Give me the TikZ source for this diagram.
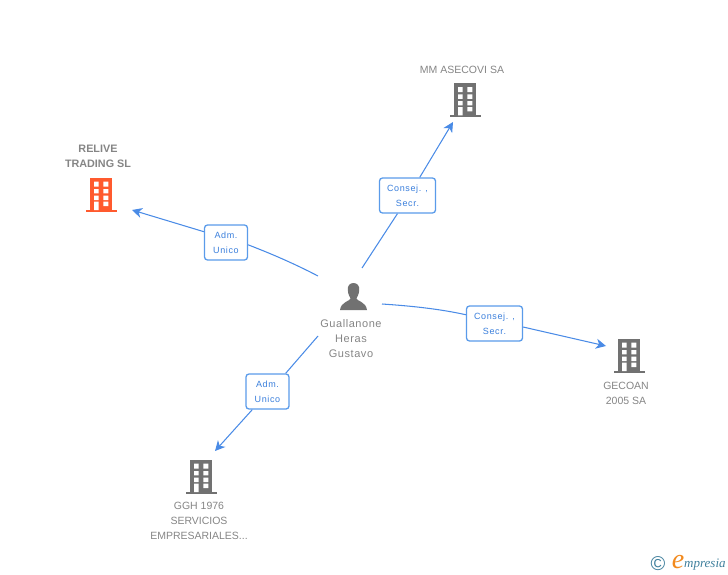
\documentclass[tikz,border=0pt]{standalone}
\usepackage{fontspec}
\usetikzlibrary{arrows.meta}
\setmainfont{Liberation Sans}
\newfontfamily\logofont{Liberation Serif}
\definecolor{linkblue}{HTML}{4A8BE6}
\definecolor{boxblue}{HTML}{5A9BEA}
\definecolor{tagblue}{HTML}{3A7FDC}
\definecolor{icongray}{HTML}{717171}
\definecolor{textgray}{HTML}{858585}
\definecolor{iconred}{HTML}{FF5A2E}
\definecolor{logoteal}{HTML}{3F7F9C}
\definecolor{logoorange}{HTML}{F28A1E}
\tikzset{
  linkline/.style={draw=linkblue,line width=1.05pt},
  link/.style={linkline,-{Stealth[length=10pt,width=10pt,inset=3pt]}},
  tagbox/.style={draw=boxblue,line width=1.3pt,fill=white,rounded corners=3pt,
    minimum width=43pt,minimum height=35pt,inner sep=0pt,align=center,text=tagblue,
    font=\addfontfeature{LetterSpace=7}\fontsize{9}{15}\selectfont},
  widebox/.style={tagbox,minimum width=56pt},
  emp/.style={align=center,text=textgray,inner sep=0pt,
    font=\fontsize{10.5}{15}\selectfont},
  bld/.pic={
    \fill [pic actions] (-11,-17) rectangle (11,15);
    \fill [pic actions] (-15.5,15) rectangle (15.5,17);
    \fill [white] (-7,-13.3) rectangle (-2.3,-8.3) (2.3,-13.3) rectangle (7.3,-8.3)
                  (-7,-6) rectangle (-2.3,-1.7) (2.3,-6) rectangle (7.3,-1.7)
                  (-7,0.7) rectangle (-2.3,5) (2.3,0.7) rectangle (7.3,5)
                  (-7,6.7) rectangle (-2.3,15) (2.3,6.7) rectangle (7.3,11);
  },
}
\begin{document}
\begin{tikzpicture}[x=1pt,y=-1pt]
\useasboundingbox (0,0) rectangle (728,575);

\coordinate (gu-relive) at (318,276);
\coordinate (gu-mm) at (362,268);
\coordinate (gu-gecoan) at (382,304);
\coordinate (gu-ggh) at (318,336);
\coordinate (end-relive) at (132,210);
\coordinate (end-mm) at (453,122);
\coordinate (end-gecoan) at (606,346);
\coordinate (end-ggh) at (215,451);

\node [tagbox] (tag-relive) at (226,242.5){Adm.\\Unico};
\draw [linkline] (gu-relive) .. controls (295,264) and (272,254) .. (tag-relive.-6.5);
\draw [link] (tag-relive.154.5) -- (end-relive);

\node [widebox] (tag-mm) at (407.5,195.5){Consej. ,\\Secr.};
\draw [linkline] (gu-mm) -- (tag-mm.241.5);
\draw [link] (tag-mm.56.7) -- (end-mm);

\node [widebox] (tag-gecoan) at (494.5,323.5){Consej. ,\\Secr.};
\draw [linkline] (gu-gecoan) .. controls (412,306) and (440,309) .. (tag-gecoan.163.4);
\draw [link] (tag-gecoan.-7) -- (end-gecoan);

\node [tagbox] (tag-ggh) at (267.5,391.5){Adm.\\Unico};
\draw [linkline] (gu-ggh) -- (tag-ggh.45);
\draw [link] (tag-ggh.230.4) -- (end-ggh);

%%%%%%%%%%%%%%%%%%%%%%%%%%%%%%%%%%%%%%%%%%%%%%%%%%%%%%%%%%%%%%%%%

\pic [fill=iconred] (bld-relive) at (101,195) {bld};
\pic [fill=icongray] (bld-mm) at (465,100.5) {bld};
\pic [fill=icongray] (bld-gecoan) at (629,356) {bld};
\pic [fill=icongray] (bld-ggh) at (201,477) {bld};

\node [emp,font=\bfseries\fontsize{10.8}{15}\selectfont] (txt-relive) at (98,156.5){RELIVE\\TRADING SL};
\node [emp] (txt-mm) at (462,70){MM ASECOVI SA};
\node [emp] (txt-gecoan) at (626,393.5){GECOAN\\2005 SA};
\node [emp] (txt-ggh) at (199,521){GGH 1976\\SERVICIOS\\EMPRESARIALES...};

%%%%%%%%%%%%%%%%%%%%%%%%%%%%%%%%%%%%%%%%%%%%%%%%%%%%%%%%%%%%%%%%%

\fill [icongray] (353.5,283) .. controls (349.5,283) and (347.5,286) .. (347.8,290)
  .. controls (348,294) and (349.5,296.5) .. (350.5,298.5)
  .. controls (350.5,301) and (341,301.5) .. (340,310)
  -- (367,310)
  .. controls (366,301.5) and (356.5,301) .. (356.5,298.5)
  .. controls (357.5,296.5) and (359,294) .. (359.2,290)
  .. controls (359.5,286) and (357.5,283) .. (353.5,283) -- cycle;

\node [emp,font=\addfontfeature{LetterSpace=5}\fontsize{11}{15}\selectfont] (txt-gu) at (351,339){Guallanone\\Heras\\Gustavo};

%%%%%%%%%%%%%%%%%%%%%%%%%%%%%%%%%%%%%%%%%%%%%%%%%%%%%%%%%%%%%%%%%

\node [text=logoteal,inner sep=0pt,font=\fontsize{20}{20}\selectfont] (logo-c) at (658,564){©};
\node [text=logoorange,inner sep=0pt,font=\logofont\itshape\fontsize{28}{28}\selectfont] (logo-e) at (678,562){e};
\node [text=logoteal,inner sep=0pt,anchor=west,font=\logofont\itshape\fontsize{13}{13}\selectfont] (logo-txt) at (684,565){mpresia};

\end{tikzpicture}
\end{document}
